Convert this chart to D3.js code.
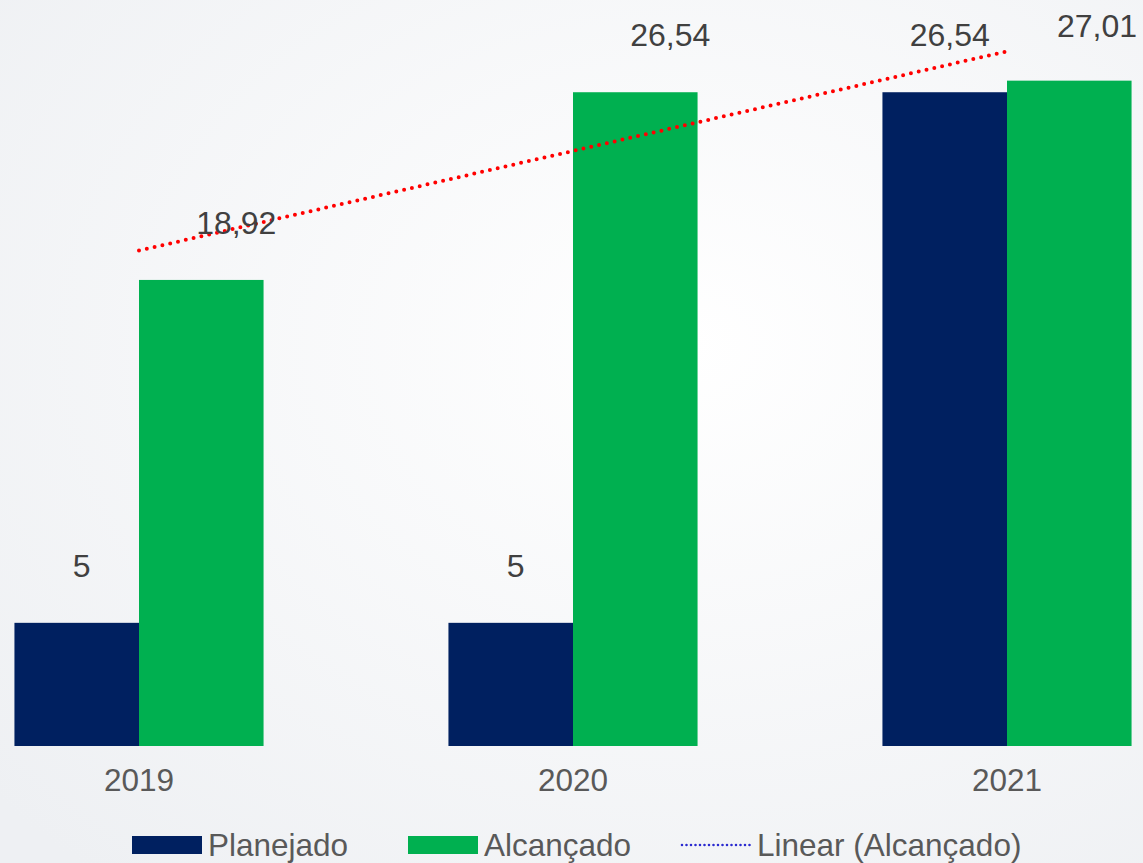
<!DOCTYPE html>
<html>
<head>
<meta charset="utf-8">
<script src="https://cdn.jsdelivr.net/npm/d3@7"></script>
<style>
  html, body { margin: 0; padding: 0; }
  body { width: 1143px; height: 863px; overflow: hidden; }
  text { font-family: "Liberation Sans", Arial, sans-serif; }
</style>
</head>
<body>
<svg id="chart" width="1143" height="863"></svg>
<script>
// data
var years = ["2019", "2020", "2021"]
var seriesNames = ["Planejado", "Alcançado"]
var planejado = [5, 5, 26.54]
var alcancado = [18.92, 26.54, 27.01]
var labelText = {
  "Planejado": ["5", "5", "26,54"],
  "Alcançado": ["18,92", "26,54", "27,01"]
}
var legendItems = ["Planejado", "Alcançado", "Linear (Alcançado)"]

var W = 1143, H = 863
var colors = { "Planejado": "#002060", "Alcançado": "#00B050" }

var svg = d3.select("#chart")

// soft background
var defs = svg.append("defs")
var grad = defs.append("radialGradient")
  .attr("id", "bg").attr("cx", "60%").attr("cy", "40%").attr("r", "80%")
grad.append("stop").attr("offset", "0%").attr("stop-color", "#ffffff")
grad.append("stop").attr("offset", "100%").attr("stop-color", "#eef0f3")
svg.append("rect").attr("width", W).attr("height", H).attr("fill", "url(#bg)")

var x0 = d3.scaleBand().domain(years).range([-78, 1224])
  .paddingInner(0.426).paddingOuter(0.213)
var x1 = d3.scaleBand().domain(seriesNames).range([0, x0.bandwidth()])
var y = d3.scaleLinear().domain([0, 30]).range([746, 7])

var rows = years.map(function (yr, i) {
  return { year: yr, values: [
    { year: yr, key: "Planejado", value: planejado[i], label: labelText["Planejado"][i] },
    { year: yr, key: "Alcançado", value: alcancado[i], label: labelText["Alcançado"][i] }
  ] }
})

var groups = svg.selectAll("g.grp")
  .data(rows).enter()
  .append("g")
  .attr("class", "grp")
  .attr("transform", function (d) { return "translate(" + x0(d.year) + ",0)" })

groups.selectAll("rect")
  .data(function (d) { return d.values }).enter()
  .append("rect")
  .attr("x", function (d) { return x1(d.key) })
  .attr("y", function (d) { return y(d.value) })
  .attr("width", x1.bandwidth())
  .attr("height", function (d) { return y(0) - y(d.value) })
  .attr("fill", function (d) { return colors[d.key] })

// trend line (least squares over Alcançado)
var n = alcancado.length
var xs = d3.range(1, n + 1)
var mx = d3.mean(xs), my = d3.mean(alcancado)
var slope = d3.sum(xs, function (v, i) { return (v - mx) * (alcancado[i] - my) }) /
  d3.sum(xs, function (v) { return (v - mx) * (v - mx) })
var icpt = my - slope * mx
var trend = years.map(function (yr, i) {
  return [x0(yr) + x0.bandwidth() / 2, y(icpt + slope * (i + 1))]
})
svg.append("path")
  .attr("d", d3.line()([trend[0], trend[n - 1]]))
  .attr("fill", "none")
  .attr("stroke", "#FF0000")
  .attr("stroke-width", 4)
  .attr("stroke-linecap", "round")
  .attr("stroke-dasharray", "0,8")

// data labels
var labels = svg.append("g")
rows.forEach(function (r) {
  labels.selectAll(null)
    .data(r.values).enter()
    .append("text")
    .attr("x", function (d) {
      var cx = x0(d.year) + x1(d.key) + x1.bandwidth() / 2 + (d.key == "Planejado" ? 5 : 35)
      return Math.min(cx, W - 46)
    })
    .attr("y", function (d) { return Math.max(y(d.value) - 46, 37) })
    .attr("text-anchor", "middle")
    .attr("font-size", 32)
    .attr("fill", "#404040")
    .text(function (d) { return d.label })
})

// x axis labels
var xAxis = d3.axisBottom(x0).tickSize(0).tickPadding(0)
var ax = svg.append("g")
  .attr("transform", "translate(0,769)")
  .call(xAxis)
ax.select(".domain").remove()
ax.selectAll("text")
  .attr("font-size", 31.5)
  .attr("fill", "#595959")
  .attr("font-family", "Liberation Sans, Arial, sans-serif")

// legend
var legX = [132, 408, 681]
var leg = svg.append("g").attr("transform", "translate(0,845)")
legendItems.forEach(function (name, i) {
  var g = leg.append("g").attr("transform", "translate(" + legX[i] + ",0)")
  if (i < 2) {
    g.append("rect").attr("x", 0).attr("y", -9).attr("width", 70).attr("height", 18)
      .attr("fill", colors[name])
  } else {
    g.append("line").attr("x1", 1).attr("x2", 69).attr("y1", 0).attr("y2", 0)
      .attr("stroke", "#2b2bd0").attr("stroke-width", 2.6)
      .attr("stroke-linecap", "round").attr("stroke-dasharray", "0,4.5")
  }
  g.append("text")
    .attr("x", 76).attr("y", 0).attr("dy", "0.35em")
    .attr("font-size", 31.5)
    .attr("fill", "#595959")
    .text(name)
})
</script>
</body>
</html>
